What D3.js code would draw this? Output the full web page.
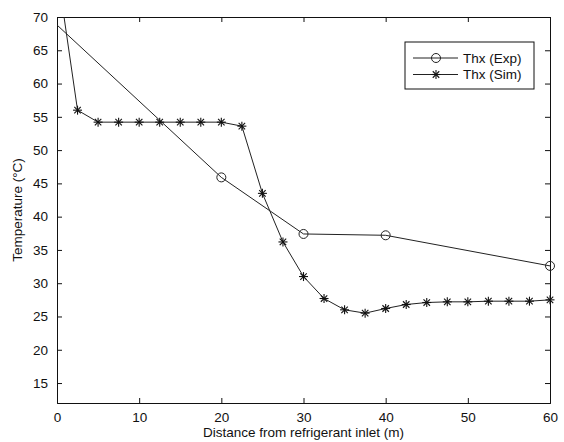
<!DOCTYPE html>
<html>
<head>
<meta charset="utf-8">
<script src="https://cdn.jsdelivr.net/npm/d3@7"></script>
<style>
  body { margin: 0; background: #fff; }
  svg { display: block; }
  text { font-family: "Liberation Sans", Arial, sans-serif; fill: #111; }
</style>
</head>
<body>
<div id="chart"></div>
<script>
// distance along the heat exchanger (m)
const expX = [0, 20, 30, 40, 60];
const expT = [68.8, 45.9, 37.4, 37.2, 32.6];
const expMarked = [false, true, true, true, true];

const simX = [0, 2.5, 5, 7.5, 10, 12.5, 15, 17.5, 20, 22.5, 25, 27.5, 30,
    32.5, 35, 37.5, 40, 42.5, 45, 47.5, 50, 52.5, 55, 57.5, 60];
const simT = [77.3, 56.0, 54.2, 54.2, 54.2, 54.2, 54.2, 54.2, 54.2, 53.6, 43.5, 36.2, 31.0,
    27.7, 26.0, 25.5, 26.2, 26.8, 27.1, 27.2, 27.2, 27.3, 27.3, 27.3, 27.5];

const xTicks = [0, 10, 20, 30, 40, 50, 60];
const yTicks = [15, 20, 25, 30, 35, 40, 45, 50, 55, 60, 65, 70];

const seriesNames = ['Thx (Exp)', 'Thx (Sim)'];

const W = 564, H = 442;
const margin = { left: 57, right: 14, top: 17, bottom: 39 };

const svg = d3.select('#chart').append('svg').attr('width', W).attr('height', H);

const x = d3.scaleLinear().domain([0, 60]).range([margin.left, W - margin.right]);
const y = d3.scaleLinear().domain([12, 70]).range([H - margin.bottom, margin.top]);

svg.append('clipPath').attr('id', 'plot')
    .append('rect')
    .attr('x', x(0)).attr('y', y(70))
    .attr('width', x(60) - x(0)).attr('height', y(12) - y(70));

// axes, Matlab style: ticks inward, mirrored on top and right
const tick = 5;
const axisG = svg.append('g');
axisG.append('g')
    .attr('transform', `translate(0,${y(12)})`)
    .call(d3.axisBottom(x).tickValues(xTicks).tickSize(-tick).tickPadding(9));
axisG.append('g')
    .attr('transform', `translate(0,${y(70)})`)
    .call(d3.axisTop(x).tickValues(xTicks).tickSize(-tick).tickFormat(''));
axisG.append('g')
    .attr('transform', `translate(${x(0)},0)`)
    .call(d3.axisLeft(y).tickValues(yTicks).tickSize(-tick).tickPadding(9));
axisG.append('g')
    .attr('transform', `translate(${x(60)},0)`)
    .call(d3.axisRight(y).tickValues(yTicks).tickSize(-tick).tickFormat(''));
axisG.selectAll('.domain').attr('stroke', '#111');
axisG.selectAll('.tick line').attr('stroke', '#111');
axisG.selectAll('.tick text')
    .style('font-family', '"Liberation Sans", Arial, sans-serif')
    .style('font-size', '13.5px')
    .attr('fill', '#222');

// axis titles
svg.append('text')
    .attr('x', (x(0) + x(60)) / 2)
    .attr('y', 437)
    .attr('text-anchor', 'middle')
    .style('font-size', '13.5px')
    .text('Distance from refrigerant inlet (m)');
svg.append('text')
    .attr('transform', `translate(22,${(y(12) + y(70)) / 2}) rotate(-90)`)
    .attr('text-anchor', 'middle')
    .style('font-size', '13.5px')
    .text('Temperature (°C)');

const line = d3.line().x((d) => x(d[0])).y((d) => y(d[1]));
const plot = svg.append('g').attr('clip-path', 'url(#plot)');

const expData = d3.zip(expX, expT);
const simData = d3.zip(simX, simT);

plot.append('path').datum(expData)
    .attr('d', line).attr('fill', 'none').attr('stroke', '#222').attr('stroke-width', 1);
plot.append('path').datum(simData)
    .attr('d', line).attr('fill', 'none').attr('stroke', '#222').attr('stroke-width', 1);

function circle(g, cx, cy) {
    g.append('circle').attr('cx', cx).attr('cy', cy).attr('r', 4.5)
        .attr('fill', 'none').attr('stroke', '#222').attr('stroke-width', 1);
}
function star(g, cx, cy) {
    const r = 4.5, d = r * 0.72;
    const segs = [[0, -r, 0, r], [-r, 0, r, 0], [-d, -d, d, d], [-d, d, d, -d]];
    segs.forEach((s) => g.append('line')
        .attr('x1', cx + s[0]).attr('y1', cy + s[1])
        .attr('x2', cx + s[2]).attr('y2', cy + s[3])
        .attr('stroke', '#111').attr('stroke-width', 1.1));
}

expData.forEach((d, i) => { if (expMarked[i]) circle(svg, x(d[0]), y(d[1])); });
simData.forEach((d) => { if (d[1] <= 70) star(svg, x(d[0]), y(d[1])); });

// legend
const lg = svg.append('g').attr('transform', 'translate(405,42)');
lg.append('rect').attr('width', 129).attr('height', 47)
    .attr('fill', '#fff').attr('stroke', '#111');
seriesNames.forEach((name, i) => {
    const cy = 16 + i * 16.5;
    lg.append('line').attr('x1', 8).attr('x2', 53).attr('y1', cy).attr('y2', cy)
        .attr('stroke', '#222');
    if (i === 0) circle(lg, 31, cy); else star(lg, 31, cy);
    lg.append('text').attr('x', 58).attr('y', cy + 4.5)
        .style('font-size', '13.5px').text(name);
});
</script>
</body>
</html>
